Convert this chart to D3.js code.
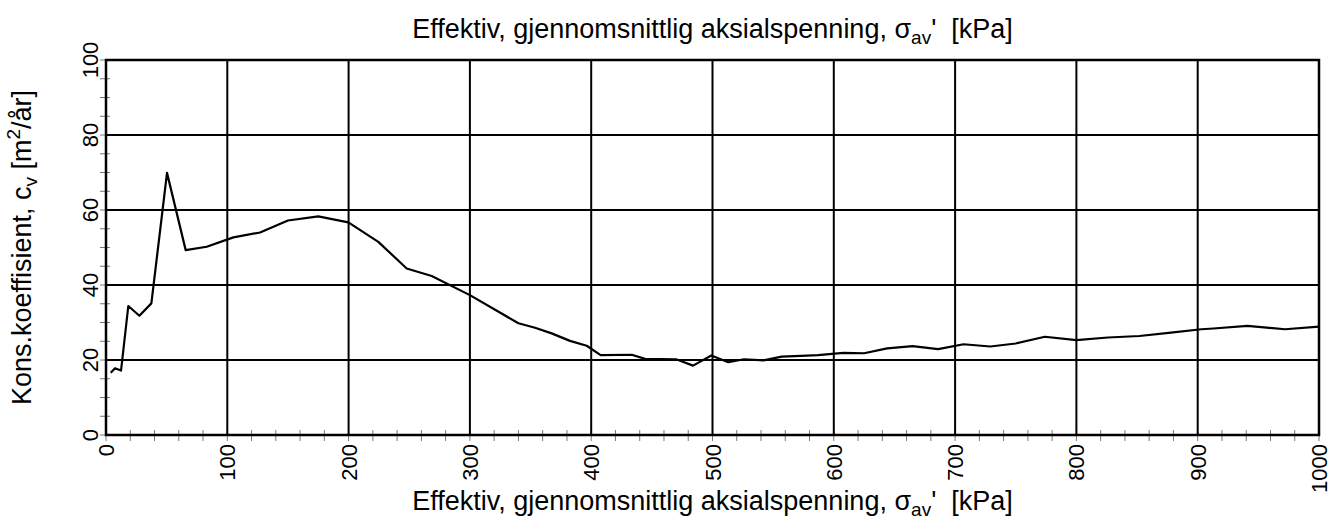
<!DOCTYPE html>
<html><head><meta charset="utf-8">
<script src="https://cdn.jsdelivr.net/npm/d3@7"></script>
<style>
html,body{margin:0;padding:0;background:#fff;}
svg{display:block;font-family:"Liberation Sans",Arial,sans-serif;}
</style></head>
<body>
<svg id="chart" width="1342" height="524"></svg>
<script>
const sigma = [3.9, 7.4, 12.4, 18.4, 27.5, 37.4, 50.3, 65.7, 83, 105, 127, 150, 175, 199.8, 224.5, 247.9, 268.5, 300, 340, 353.7, 367.4, 382.5, 396.3, 407.8, 433.4, 444.4, 470, 484, 499, 513, 526, 542, 557, 573, 587, 608, 625, 644, 665, 686, 707, 729, 750, 774, 800, 826, 852, 878, 903, 913, 941, 972, 1000];
const cv = [16.6, 17.8, 17.2, 34.4, 31.8, 35.1, 69.9, 49.3, 50.2, 52.7, 54, 57.2, 58.3, 56.7, 51.5, 44.4, 42.4, 37.3, 29.8, 28.6, 27.1, 25.1, 23.8, 21.3, 21.4, 20.3, 20.2, 18.5, 21.2, 19.4, 20.2, 19.9, 20.9, 21.1, 21.3, 21.9, 21.8, 23.1, 23.7, 22.9, 24.2, 23.6, 24.4, 26.2, 25.3, 26, 26.4, 27.3, 28.2, 28.4, 29.1, 28.2, 28.9];
const xTicks = [0,100,200,300,400,500,600,700,800,900,1000];
const yTicks = [0,20,40,60,80,100];
const xTitle = "Effektiv, gjennomsnittlig aksialspenning, ";
const yTitle = "Kons.koeffisient, c";

const svg = d3.select("#chart");
const L=106, R=1319, T=60, B=435;
const x = d3.scaleLinear().domain([0,1000]).range([L,R]);
const y = d3.scaleLinear().domain([0,100]).range([B,T]);

// minor ticks
const g = svg.append("g");
g.selectAll(".ymin").data(d3.range(0,101,5)).join("line")
  .attr("x1",L-6).attr("x2",L+4).attr("y1",d=>y(d)).attr("y2",d=>y(d))
  .attr("stroke","#777").attr("stroke-width",1);
g.selectAll(".xmin").data(d3.range(0,1001,20)).join("line")
  .attr("y1",B-5).attr("y2",B+6).attr("x1",d=>x(d)).attr("x2",d=>x(d))
  .attr("stroke","#777").attr("stroke-width",1);

// grid
g.selectAll(".gx").data(xTicks).join("line")
  .attr("x1",d=>x(d)).attr("x2",d=>x(d)).attr("y1",T).attr("y2",B)
  .attr("stroke","#000").attr("stroke-width",2);
g.selectAll(".gy").data(yTicks).join("line")
  .attr("y1",d=>y(d)).attr("y2",d=>y(d)).attr("x1",L).attr("x2",R)
  .attr("stroke","#000").attr("stroke-width",2);
svg.append("rect").attr("x",L).attr("y",T).attr("width",R-L).attr("height",B-T)
  .attr("fill","none").attr("stroke","#000").attr("stroke-width",2.5);

// line
const line = d3.line().x(d=>x(d[0])).y(d=>y(d[1]));
svg.append("path").datum(sigma.map((s,i)=>[s,cv[i]]))
  .attr("d",line).attr("fill","none").attr("stroke","#000").attr("stroke-width",2.2)
  .attr("stroke-linejoin","round");

// tick labels
svg.selectAll(".xl").data(xTicks).join("text")
  .attr("transform",d=>`translate(${x(d)+8},444) rotate(-90)`)
  .attr("text-anchor","end").attr("font-size",22).text(d=>d);
svg.selectAll(".yl").data(yTicks).join("text")
  .attr("transform",d=>`translate(${L-8},${y(d)}) rotate(-90)`)
  .attr("text-anchor","middle").attr("font-size",22).text(d=>d);

// titles
function axTitle(sel){
  sel.attr("font-size",27).attr("text-anchor","middle").attr("xml:space","preserve");
  sel.append("tspan").text(xTitle);
  sel.append("tspan").text("σ");
  sel.append("tspan").attr("font-size",19).attr("dy",6).text("av");
  sel.append("tspan").attr("dy",-6).text("'  [kPa]");
}
svg.append("text").attr("x",(L+R)/2).attr("y",38).call(axTitle);
svg.append("text").attr("x",(L+R)/2).attr("y",510).call(axTitle);

const yt = svg.append("text").attr("transform",`translate(31,${(T+B)/2}) rotate(-90)`)
  .attr("font-size",27).attr("text-anchor","middle");
yt.append("tspan").text(yTitle);
yt.append("tspan").attr("font-size",19).attr("dy",6).text("v");
yt.append("tspan").attr("dy",-6).text(" [m");
yt.append("tspan").attr("font-size",19).attr("dy",-11).text("2");
yt.append("tspan").attr("dy",11).text("/år]");
</script>
</body></html>
